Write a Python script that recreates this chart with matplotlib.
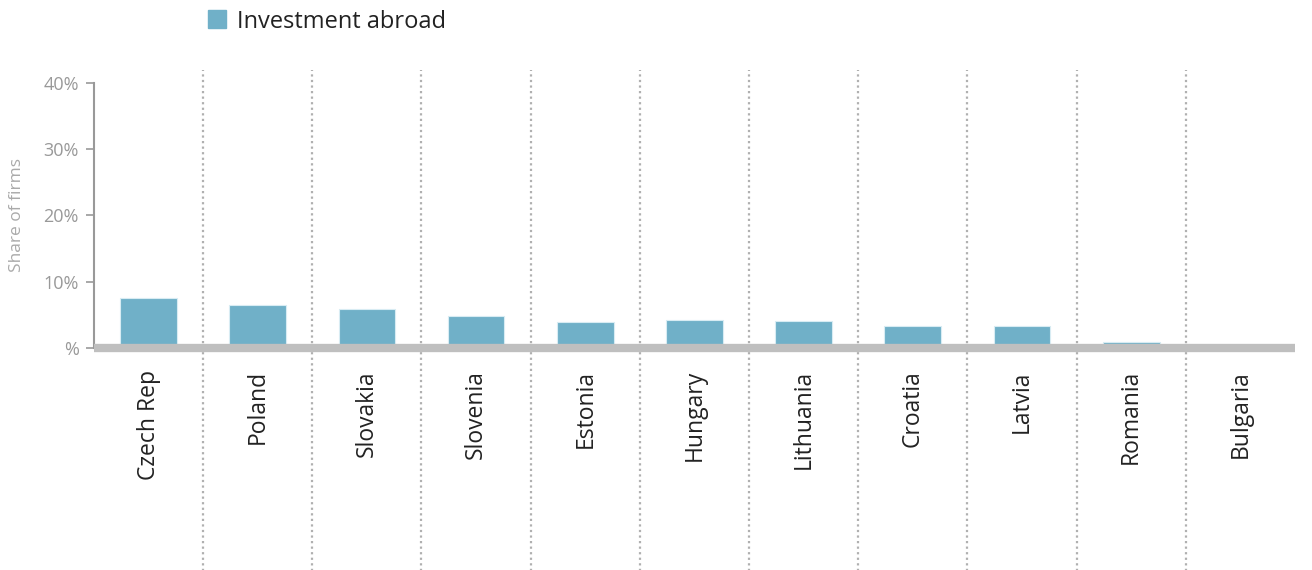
import numpy as np
import matplotlib.pyplot as plt
from matplotlib.patches import Patch

# Share of firms investing abroad, by country
countries = ['Czech Rep', 'Poland', 'Slovakia', 'Slovenia', 'Estonia', 'Hungary',
             'Lithuania', 'Croatia', 'Latvia', 'Romania', 'Bulgaria']
invest_abroad = [7.5, 6.5, 5.9, 4.8, 3.9, 4.2, 4.1, 3.3, 3.3, 0.9, 0.0]
y_ticks = [0, 10, 20, 30, 40]
y_labels = ['%', '10%', '20%', '30%', '40%']

plt.rcParams['font.family'] = ['Open Sans', 'DejaVu Sans']

fig = plt.figure(figsize=(13.12, 5.70), dpi=100)
ax = fig.add_axes([0.0716, 0.3895, 0.9154, 0.4649])

x = np.arange(len(countries))
ax.bar(x, invest_abroad, width=0.52, color='#70b0c8', edgecolor='#d8ecf3',
       linewidth=0.8, zorder=2)

# dotted separators between countries, running into the label area
for i in range(len(countries) - 1):
    ax.axvline(i + 0.5, ymin=-0.84, ymax=1.05, color='#b0b0b0', linestyle=(0, (1, 1.5)),
               linewidth=1.6, clip_on=False, zorder=1)

ax.set_xlim(-0.5, len(countries) - 0.5)
ax.set_ylim(0, 40)
ax.set_yticks(y_ticks)
ax.set_yticklabels(y_labels, fontsize=13, color='#999999')
ax.set_xticks(x)
ax.set_xticklabels(countries, rotation=90, fontsize=16.5, color='#222222')
ax.tick_params(axis='x', length=0, pad=16)
ax.tick_params(axis='y', length=6, width=1.2, color='#999999', pad=5)

for s in ['top', 'right']:
    ax.spines[s].set_visible(False)
ax.spines['left'].set_color('#999999')
ax.spines['left'].set_linewidth(1.5)
ax.spines['bottom'].set_color('#bfbfbf')
ax.spines['bottom'].set_linewidth(6)
ax.spines['bottom'].set_capstyle('butt')
ax.spines['bottom'].set_zorder(3)

ax.set_ylabel('Share of firms', fontsize=12.5, color='#aaaaaa', labelpad=13)

handles = [Patch(facecolor='#70b0c8', edgecolor='#70b0c8', label='Investment abroad')]
fig.legend(handles=handles, loc='center left', bbox_to_anchor=(0.142, 0.962),
           frameon=False, fontsize=17, handlelength=0.8, handleheight=0.8,
           handletextpad=0.45, labelcolor='#222222')

fig.savefig('out.png', dpi=100)
